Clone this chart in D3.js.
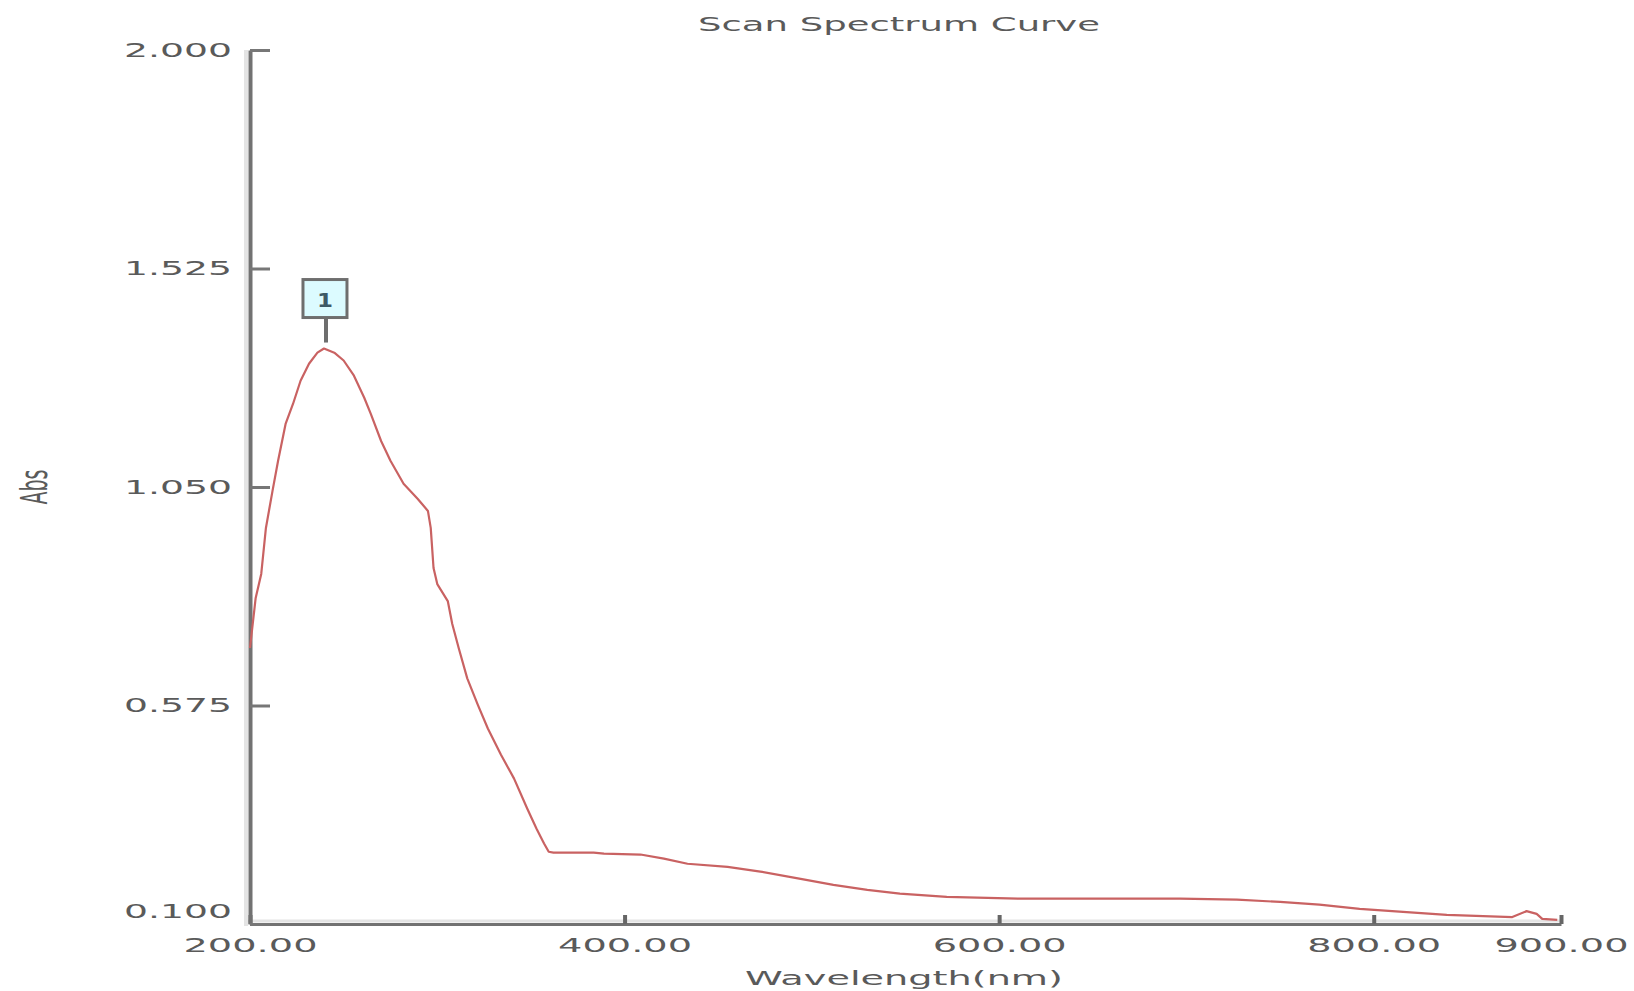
<!DOCTYPE html>
<html>
<head>
<meta charset="utf-8">
<script src="https://cdn.jsdelivr.net/npm/d3@7"></script>
<style>
  body { margin: 0; background: #fff; }
  text { font-family: 'DejaVu Sans', sans-serif; fill: #5a5a5a; }
</style>
</head>
<body>
<section></section>
<script>
// Scan spectrum
const wavelength = [200, 203, 206, 208.5, 212, 215, 219, 223, 227, 231.5, 236, 239.5, 245, 250, 255.5,
  261, 264.5, 270, 275, 282, 289.6, 295, 296.5, 298, 300, 305.6, 308, 311.5, 316, 321.6, 327, 334,
  341, 348, 353, 357, 359.5, 362, 383.5, 389, 408.5, 421, 433.6, 455, 472.5, 494, 511.5, 529.6, 547,
  572, 611, 643, 696.5, 727, 750, 771, 792.5, 817.6, 839, 874, 881.6, 887, 890, 898];
const absorbance = [0.70, 0.808, 0.861, 0.961, 1.041, 1.107, 1.187, 1.231, 1.281, 1.318, 1.342, 1.351, 1.342, 1.325, 1.292,
  1.244, 1.209, 1.150, 1.107, 1.057, 1.024, 0.998, 0.961, 0.874, 0.839, 0.802, 0.752, 0.699, 0.634, 0.577, 0.525, 0.468,
  0.416, 0.351, 0.307, 0.275, 0.257, 0.255, 0.255, 0.253, 0.251, 0.242, 0.231, 0.224, 0.214, 0.198, 0.185, 0.174, 0.166,
  0.159, 0.155, 0.155, 0.155, 0.153, 0.148, 0.142, 0.133, 0.126, 0.120, 0.115, 0.128, 0.122, 0.111, 0.109];

const xticks = [200, 400, 600, 800, 900];
const yticks = [0.1, 0.575, 1.05, 1.525, 2.0];
const peaks = ['1'];

const data = wavelength.map((w, i) => ({ w: w, a: absorbance[i] }));

const svg = d3.select('section')
  .append('svg')
  .attr('width', 1634)
  .attr('height', 991);

const xscale = d3.scaleLinear().domain([200, 900]).range([250, 1561]);
const yscale = d3.scaleLinear().domain([0.1, 2.0]).range([924, 50]);

// light shading beside the axes
svg.append('line')
  .attr('x1', 246).attr('x2', 246).attr('y1', 50).attr('y2', 926)
  .attr('stroke', '#e4e4e4').attr('stroke-width', 4);
svg.append('line')
  .attr('x1', 248).attr('x2', 1561).attr('y1', 921).attr('y2', 921)
  .attr('stroke', '#e4e4e4').attr('stroke-width', 3);

const xaxis = d3.axisBottom(xscale)
  .tickValues(xticks)
  .tickFormat(d3.format('.2f'))
  .tickSizeInner(-9)
  .tickSizeOuter(0)
  .tickPadding(14);
const yaxis = d3.axisLeft(yscale)
  .tickValues(yticks)
  .tickFormat(d3.format('.3f'))
  .tickSizeInner(-20)
  .tickSizeOuter(0)
  .tickPadding(18);

const gx = svg.append('g')
  .attr('transform', 'translate(0, 924)')
  .call(xaxis);
const gy = svg.append('g')
  .attr('transform', 'translate(250, 0)')
  .call(yaxis);

gx.select('.domain').attr('stroke', '#727272').attr('stroke-width', 3);
gy.select('.domain').attr('stroke', '#727272').attr('stroke-width', 4);
gx.selectAll('.tick line').attr('stroke', '#666').attr('stroke-width', 4);
gy.selectAll('.tick line').attr('stroke', '#777').attr('stroke-width', 3);

gx.selectAll('.tick text')
  .attr('font-size', 20)
  .attr('textLength', 134)
  .attr('lengthAdjust', 'spacingAndGlyphs')
  .style('fill', '#5a5a5a');
gy.selectAll('.tick text')
  .attr('font-size', 20)
  .attr('textLength', 108)
  .attr('lengthAdjust', 'spacingAndGlyphs')
  .attr('dy', d => d === 0.1 ? '-0.35em' : '0.32em')
  .style('fill', '#5a5a5a');

// titles
svg.append('text')
  .attr('x', 899).attr('y', 31)
  .attr('text-anchor', 'middle')
  .attr('font-size', 20)
  .attr('textLength', 402)
  .attr('lengthAdjust', 'spacingAndGlyphs')
  .text('Scan Spectrum Curve');
svg.append('text')
  .attr('x', 904).attr('y', 985)
  .attr('text-anchor', 'middle')
  .attr('font-size', 20)
  .attr('textLength', 318)
  .attr('lengthAdjust', 'spacingAndGlyphs')
  .text('Wavelength(nm)');
svg.append('text')
  .attr('transform', 'translate(47, 487) scale(2, 1) rotate(-90)')
  .attr('text-anchor', 'middle')
  .attr('font-size', 19)
  .text('Abs');

// spectrum line
const line = d3.line()
  .x(d => xscale(d.w))
  .y(d => yscale(d.a));

svg.append('path')
  .datum(data)
  .attr('d', line)
  .attr('fill', 'none')
  .attr('stroke', '#c96262')
  .attr('stroke-width', 2.2)
  .attr('stroke-linejoin', 'round');

// peak marker
const peak = data.reduce((m, d) => d.a > m.a ? d : m, data[0]);
const px = xscale(peak.w);
const py = yscale(peak.a);
const marker = svg.selectAll('.peak')
  .data(peaks)
  .enter()
  .append('g')
  .attr('class', 'peak')
  .attr('transform', `translate(${px}, ${py})`);
marker.append('line')
  .attr('x1', 2).attr('x2', 2).attr('y1', -6).attr('y2', -31)
  .attr('stroke', '#6e6e6e').attr('stroke-width', 4);
marker.append('rect')
  .attr('x', -21).attr('y', -69)
  .attr('width', 44).attr('height', 38)
  .attr('fill', '#dcfbff')
  .attr('stroke', '#6e6e6e')
  .attr('stroke-width', 3);
marker.append('text')
  .attr('x', 1).attr('y', -42)
  .attr('text-anchor', 'middle')
  .attr('font-size', 19)
  .attr('font-weight', 'bold')
  .attr('textLength', 16)
  .attr('lengthAdjust', 'spacingAndGlyphs')
  .style('fill', '#3e5a66')
  .text(d => d);
</script>
</body>
</html>
